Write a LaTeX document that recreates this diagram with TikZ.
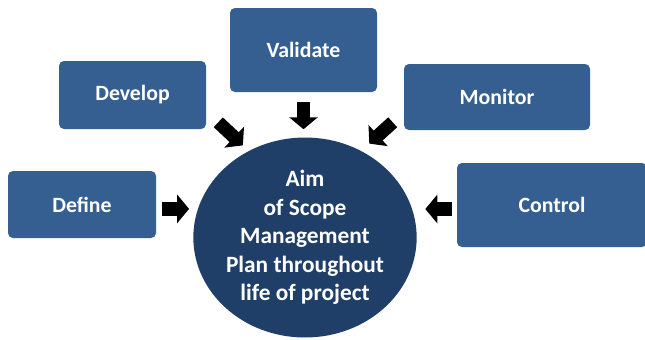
\documentclass[tikz,border=0pt]{standalone}
\usepackage{fontspec}
\setmainfont{Carlito}
\usetikzlibrary{shapes.geometric,arrows.meta,calc}

\definecolor{boxblue}{HTML}{365F91}
\definecolor{aimblue}{HTML}{1F3F68}

\begin{document}
\begin{tikzpicture}
  [task/.style={rectangle,rounded corners=3.5pt,fill=boxblue,text=white,
     font=\fontsize{15.5}{18}\selectfont\bfseries},
   aimdisc/.style={ellipse,fill=aimblue,text=white,inner sep=0pt,
     minimum width=5.4cm,minimum height=5cm,align=center,
     font=\fontsize{16.6}{20.2}\selectfont\bfseries},
   pusharrow/.style={line width=9.5pt,-{Triangle[width=20pt,length=8.5pt]}}]
  \clip (0,0) rectangle (16.125,8.475);

  \node[aimdisc] (aim) at (7.625,2.5375)
    {Aim\\of Scope\\Management\\Plan throughout\\life of project};

  \node[task,minimum width=3.7cm,minimum height=1.675cm] (define) at (2.05,3.3625) {Define};
  \node[task,minimum width=3.675cm,minimum height=1.7cm] (develop) at (3.3125,6.1) {Develop};
  \node[task,minimum width=3.675cm,minimum height=2.1cm] (validate) at (7.5875,7.225) {Validate};
  \node[task,minimum width=4.65cm,minimum height=1.65cm] (monitor) at (12.425,6.05) {Monitor};
  \node[task,minimum width=4.75cm,minimum height=2.1cm] (control) at (13.8,3.35) {Control};

  % arrows pointing in to the aim
  \draw[pusharrow,shorten <=0.15cm,shorten >=0.1cm]
    ($(define.east)+(0,-0.11)$) -- ($(define.east -| aim.west)+(0,-0.11)$);
  \draw[pusharrow,shorten >=0.2cm] ([shift={(0.3,0.175)}]develop.south east) -- (aim.123);
  \draw[pusharrow,shorten <=0.25cm,shorten >=0.2cm] (validate.south) -- (validate.south |- aim.north);
  \draw[pusharrow,shorten >=0.27cm] ([shift={(-0.275,0.2)}]monitor.south west) -- (aim.57);
  \draw[pusharrow,shorten <=0.125cm,shorten >=0.21cm]
    ($(control.west)+(0,-0.1)$) -- ($(control.west -| aim.east)+(0,-0.1)$);

\end{tikzpicture}
\end{document}
